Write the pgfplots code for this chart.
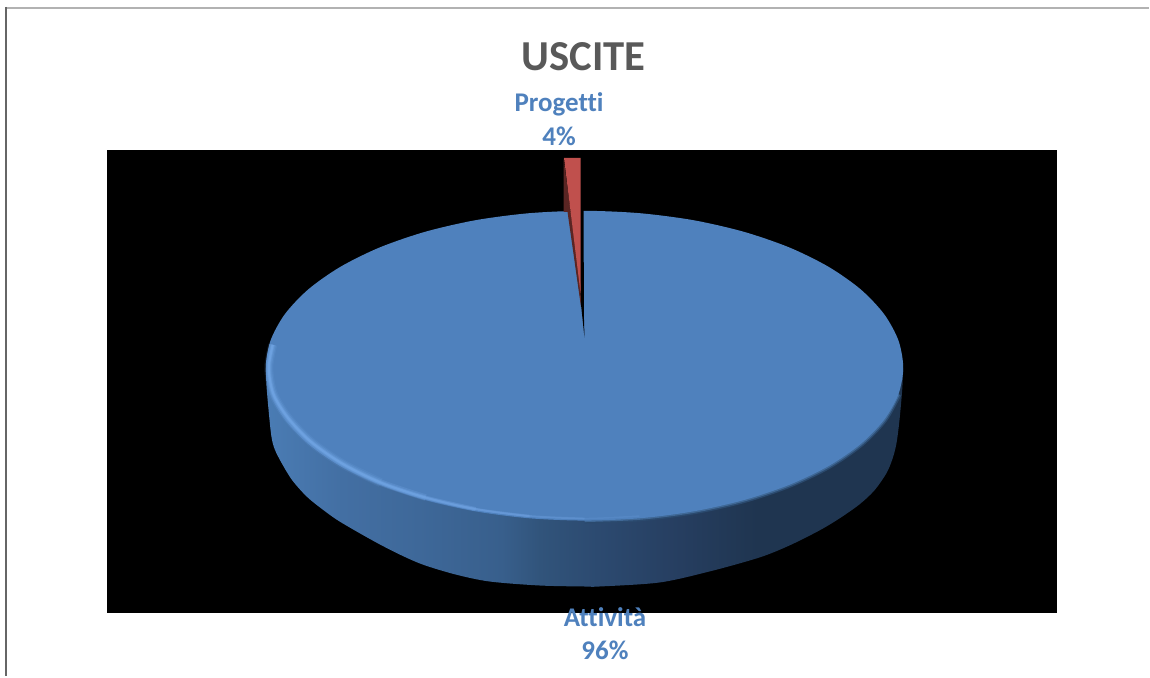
\documentclass[border=0pt]{standalone}
\usepackage{pgfplots}
\usepackage{pgfplotstable}
\usepackage{fontspec}
\setmainfont[Ligatures=NoCommon]{Carlito}
\pgfplotsset{compat=1.18}

\definecolor{face}{HTML}{4F81BD}
\definecolor{titlegray}{HTML}{595959}
\definecolor{rimlight}{HTML}{78ACEC}
\definecolor{rimdark}{HTML}{2B4A6E}
\definecolor{rimmid}{HTML}{3F6896}
\definecolor{redface}{HTML}{C0504D}
\definecolor{redside}{HTML}{5A2523}
\definecolor{s0}{HTML}{4A7CB4}
\definecolor{s1}{HTML}{436FA3}
\definecolor{s2}{HTML}{3E6899}
\definecolor{s3}{HTML}{385F8C}
\definecolor{s4}{HTML}{31547B}
\definecolor{s5}{HTML}{2C4A70}
\definecolor{s6}{HTML}{263E60}
\definecolor{s7}{HTML}{1F3550}

% side of the disc, light on the left and dark on the right
\pgfdeclarehorizontalshading{sideblue}{100bp}{
  color(0bp)=(s0);
  color(25bp)=(s0);
  color(31bp)=(s1);
  color(37bp)=(s2);
  color(43.5bp)=(s3);
  color(46.5bp)=(s4);
  color(51bp)=(s5);
  color(57.5bp)=(s6);
  color(63.5bp)=(s7);
  color(75bp)=(s7);
  color(100bp)=(s7)}

% outline of the top face
\pgfplotstableread{
x y
904 368
899.2 340.7
884.8 314.3
861.3 289.5
829.4 267.1
790.1 247.7
744.5 232
694.1 220.4
640.5 213.4
585 211
529.5 213.4
475.9 220.4
425.5 232
379.9 247.7
340.6 267.1
308.7 289.5
285.2 314.3
270.8 340.7
266 368
270.8 394.6
285.2 420.3
308.7 444.5
340.6 466.4
379.9 485.2
425.5 500.5
475.9 511.8
529.5 518.7
585 521
640.5 518.7
694.1 511.8
744.5 500.5
790.1 485.2
829.4 466.4
861.3 444.5
884.8 420.3
899.2 394.6
}\topface

% shadow along the front right edge
\pgfplotstableread{
x y
899.2 394.6
884.8 420.3
861.3 444.5
829.4 466.4
790.1 485.2
744.5 500.5
694.1 511.8
640.5 518.7
585 521
}\rimright

% highlight along the front left edge
\pgfplotstableread{
x y
273 345
269 368
273.5 394
288 418
311 442
342.5 464
381 483
426 498
476 509.5
530 516.5
585 519
640 516.5
}\rimleft

% lower outline of the disc side
\pgfplotstableread{
x y
266 368
267 390
271 432
274 447
280 460
292 480
307 497
323 510
340 522
373 541
398 554
423 565
456 575
490 582
540 586
585 587
600 587
660 583
710 572
760 558
790 546
820 531
840 519
860 505
875 491
887 474
893 460
897 445
900 423
903 390
904 368
}\sideshape

\begin{document}
\begin{tikzpicture}
\begin{axis}[
    width=1150pt,
    height=677pt,
    scale only axis,
    hide axis,
    clip=false,
    xmin=0, xmax=1150,
    ymin=0, ymax=677,
    y dir=reverse,
  ]
  % page background, keeps the picture at full size
  \addplot[fill=white, draw=none] coordinates {(0,0) (1150,0) (1150,677) (0,677)} --cycle;

  % frame of the screenshot
  \addplot[draw=black!30, line width=2pt] coordinates {(6,8) (1150,8)};
  \addplot[draw=black!60, line width=2pt] coordinates {(6,7) (6,677)};

  % black plot area
  \addplot[fill=black, draw=none] coordinates {(107,150) (1058,150) (1058,614) (107,614)} --cycle;

  % side of the disc
  \addplot[draw=none, shading=sideblue, smooth] table[x=x,y=y] {\sideshape} --cycle;

  % soft edge, then the top face
  \addplot[draw=rimdark, line width=6pt, smooth] table[x=x,y=y] {\rimright};
  \addplot[draw=rimmid, line width=3pt, smooth] table[x=x,y=y] {\rimright};
  \addplot[fill=face, draw=none, smooth cycle] table[x=x,y=y] {\topface};

  % highlight, layers get shorter and narrower towards the front
  \addplot[draw=rimlight, opacity=0.12, line width=9pt, smooth, restrict x to domain=0:381] table[x=x,y=y] {\rimleft};
  \addplot[draw=rimlight, opacity=0.22, line width=6.5pt, smooth, restrict x to domain=0:426] table[x=x,y=y] {\rimleft};
  \addplot[draw=rimlight, opacity=0.3, line width=4pt, smooth, restrict x to domain=0:476] table[x=x,y=y] {\rimleft};
  \addplot[draw=rimlight, opacity=0.3, line width=2.5pt, smooth, restrict x to domain=0:530] table[x=x,y=y] {\rimleft};
  \addplot[draw=rimlight, opacity=0.25, line width=2pt, smooth, restrict x to domain=0:585] table[x=x,y=y] {\rimleft};
  \addplot[draw=rimlight, opacity=0.15, line width=1.5pt, smooth, restrict x to domain=0:640] table[x=x,y=y] {\rimleft};

  % gap left by the exploded slice
  \addplot[fill=black, draw=none] coordinates {(568,205) (584,205) (584.5,320) (585,338) (581,300)} --cycle;

  % exploded slice
  \addplot[fill=redside, draw=none] coordinates {(564,158) (564,212) (568,212) (581.5,307) (581,285)} --cycle;
  \addplot[fill=redface, draw=none] coordinates {(564.5,158) (581,158) (581,293)} --cycle;

  % labels
  \node[font=\fontsize{42.7}{42.7}\selectfont\bfseries, text=titlegray] at (axis cs:584,57) {USCITE};
  \node[font=\fontsize{27}{27}\selectfont\bfseries, text=face] at (axis cs:559.5,104.5) {Progetti};
  \node[font=\fontsize{27}{27}\selectfont\bfseries, text=face] at (axis cs:559.5,136) {4\%};
  \node[font=\fontsize{27}{27}\selectfont\bfseries, text=face] at (axis cs:605.5,618) {Attività};
  \node[font=\fontsize{27}{27}\selectfont\bfseries, text=face] at (axis cs:605.5,651) {96\%};
\end{axis}
\end{tikzpicture}
\end{document}
